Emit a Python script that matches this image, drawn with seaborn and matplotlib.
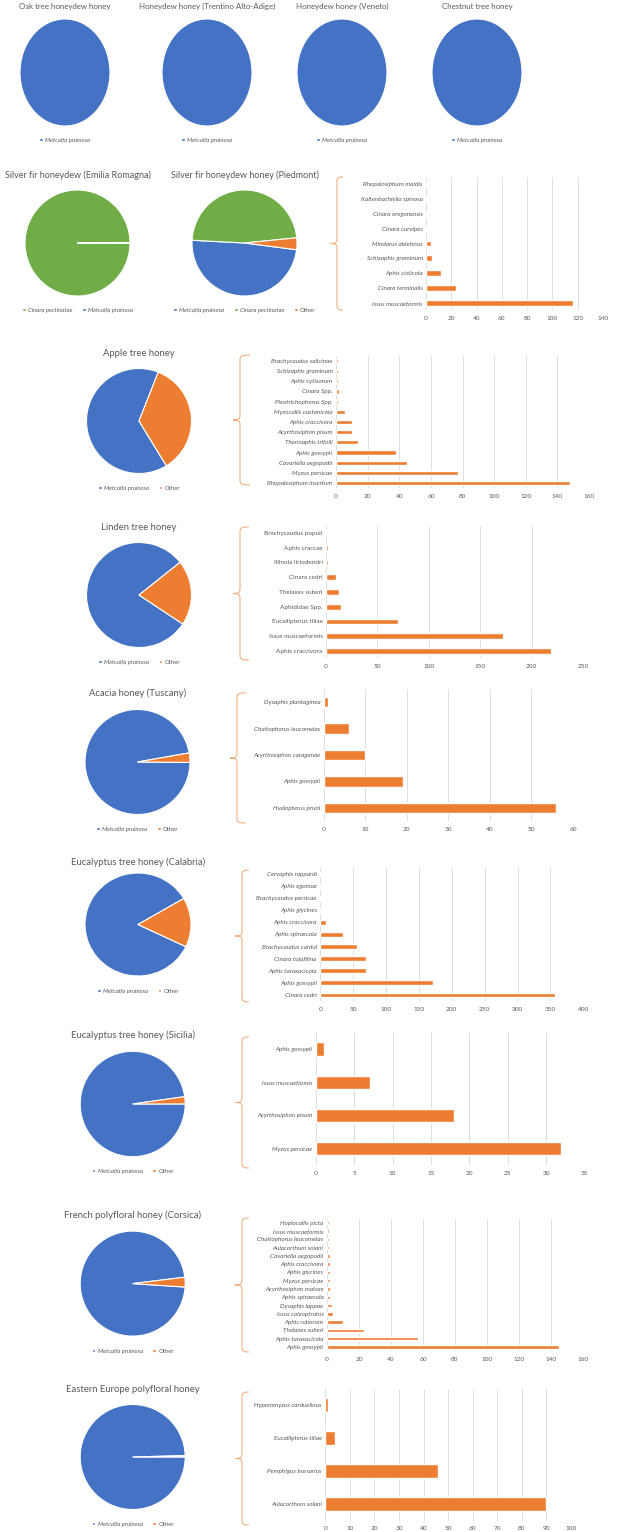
import numpy as np
import matplotlib
matplotlib.use("Agg")
import matplotlib.pyplot as plt
from matplotlib.patches import Patch, PathPatch
from matplotlib.path import Path
import seaborn as sns

# colours (Office palette)
BLUE = "#4472C4"
ORANGE = "#ED7D31"
GREEN = "#70AD47"
GREY = "#595959"
BRACE = "#F4B183"

# ---- pie data (shares) ----
top_titles = ["Oak tree honeydew honey", "Honeydew honey (Trentino Alto-Adige)",
              "Honeydew honey (Veneto)", "Chestnut tree honey"]

emilia_labels = ["Cinara pectinatae", "Metcalfa pruinosa"]
emilia_values = [99.9, 0.1]

piedmont_labels = ["Metcalfa pruinosa", "Cinara pectinatae", "Other"]
piedmont_values = [48.8, 47.6, 3.6]

mp_other_titles = ["Apple tree honey", "Linden tree honey", "Acacia honey (Tuscany)",
                   "Eucalyptus tree honey (Calabria)", "Eucalyptus tree honey (Sicilia)",
                   "French polyfloral honey (Corsica)", "Eastern Europe polyfloral honey"]
mp_share = [64.7, 80.0, 97.1, 84.5, 97.8, 97.0, 99.6]
other_share = [35.3, 20.0, 2.9, 15.5, 2.2, 3.0, 0.4]

# ---- bar data (counts, top to bottom) ----
silver_cats = ["Rhopalosiphum maidis", "Kaltenbachiella spinosa", "Cinara oregonensis",
               "Cinara curvipes", "Mindarus abietinus", "Schizaphis graminum",
               "Aphis cisticola", "Cinara terminalis", "Issus muscaeformis"]
silver_vals = [1, 1, 1, 1, 4, 5, 12, 24, 116]

apple_cats = ["Brachycaudus salicinae", "Schizaphis graminum", "Aphis cytisorum", "Cinara Spp.",
              "Pleotrichophorus Spp.", "Myzocallis castanicola", "Aphis craccivora",
              "Acyrthosiphon pisum", "Therioaphis trifolii", "Aphis gossypii",
              "Cavariella aegopodii", "Myzus persicae", "Rhopalosiphum insertum"]
apple_vals = [1, 1, 1, 2, 1, 6, 10, 10, 14, 38, 45, 77, 148]

linden_cats = ["Brachycaudus populi", "Aphis craccae", "Illinoia liriodendri", "Cinara cedri",
               "Thelaxes suberi", "Aphididae Spp.", "Eucallipterus tiliae",
               "Issus muscaeformis", "Aphis craccivora"]
linden_vals = [1, 2, 2, 10, 13, 15, 70, 172, 219]

acacia_cats = ["Dysaphis plantaginea", "Chaitophorus leucomelas", "Acyrthosiphon caraganae",
               "Aphis gossypii", "Hyalopterus pruni"]
acacia_vals = [1, 6, 10, 19, 56]

calabria_cats = ["Cervaphis rappardi", "Aphis egomae", "Brachycaudus persicae", "Aphis glycines",
                 "Aphis craccivora", "Aphis spiraecola", "Brachycaudus cardui",
                 "Cinara tujafilina", "Aphis taraxacicola", "Aphis gossypii", "Cinara cedri"]
calabria_vals = [1, 1, 1, 1, 9, 34, 56, 70, 70, 171, 357]

sicilia_cats = ["Aphis gossypii", "Issus muscaeformis", "Acyrthosiphon pisum", "Myzus persicae"]
sicilia_vals = [1, 7, 18, 32]

corsica_cats = ["Hoplocallis picta", "Issus muscaeformis", "Chaitophorus leucomelas",
                "Aulacorthum solani", "Cavariella aegopodii", "Aphis craccivora",
                "Aphis glycines", "Myzus persicae", "Acyrthosiphon malvae", "Aphis spiraecola",
                "Dysaphis lappae", "Issus coleoptratus", "Aphis ruborum", "Thelaxes suberi",
                "Aphis taraxacicola", "Aphis gossypii"]
corsica_vals = [1, 1, 1, 1, 2, 2, 2, 2, 2, 2, 3, 4, 10, 23, 57, 145]

eastern_cats = ["Hyperomyzus carduelinus", "Eucallipterus tiliae", "Pemphigus bursarius",
                "Aulacorthum solani"]
eastern_vals = [1, 4, 46, 90]

sns.set_style("white")
plt.rcParams["font.family"] = ["Lato", "DejaVu Sans"]

W, H = 620, 1532
fig = plt.figure(figsize=(W / 100, H / 100), dpi=100)


def px_axes(x0, y0, x1, y1):
    return fig.add_axes([x0 / W, 1 - y1 / H, (x1 - x0) / W, (y1 - y0) / H])


def draw_pie(cx, cy, rx, ry, values, colors, start, title, ty, labels, ly,
             tsize=6.8, ccw=True):
    ax = px_axes(cx - rx, cy - ry, cx + rx, cy + ry)
    ax.pie(values, colors=colors, startangle=start, counterclock=ccw,
           wedgeprops=dict(edgecolor="white", linewidth=0.8))
    ax.set_aspect("auto")
    ax.set_xlim(-1, 1)
    ax.set_ylim(-1, 1)
    fig.text(cx / W, 1 - ty / H, title, ha="center", va="center", fontsize=tsize, color=GREY)
    handles = [Patch(facecolor=c) for c in colors]
    leg = fig.legend(handles, labels, loc="center", bbox_to_anchor=(cx / W, 1 - ly / H),
                     ncol=len(labels), frameon=False, fontsize=4.3,
                     handlelength=0.6, handleheight=0.6, handletextpad=0.4,
                     columnspacing=1.6, borderpad=0)
    for t in leg.get_texts():
        t.set_color(GREY)
        if t.get_text() != "Other":
            t.set_style("italic")


def draw_bars(x0, x1, ytop, ybot, cats, vals, xmax, step, italic=True):
    n = len(cats)
    slot = (ybot - ytop) / (n - 1)
    ax = px_axes(x0, ytop - slot / 2, x1, ybot + slot / 2)
    sns.barplot(x=vals, y=cats, color=ORANGE, saturation=1, width=0.4, ax=ax)
    ax.set_xlim(0, xmax)
    ax.set_xticks(np.arange(0, xmax + step, step))
    ax.set_ylim(n - 0.5, -0.5)
    ax.xaxis.grid(True, color="#D9D9D9", linewidth=0.6)
    ax.yaxis.grid(False)
    ax.set_axisbelow(True)
    for s in ax.spines.values():
        s.set_visible(False)
    ax.tick_params(length=0, labelsize=4.6, colors=GREY, pad=2.5)
    ax.tick_params(axis="x", pad=4)
    ax.set_xlabel("")
    ax.set_ylabel("")
    if italic:
        for t in ax.get_yticklabels():
            t.set_style("italic")


def brace(x, top, bot, hook=6, tip=7, r=5):
    mid = (top + bot) / 2
    pts = [(x + hook, top), (x + 1, top), (x, top + 1), (x, top + r),
           (x, mid - r),
           (x, mid - 1), (x - 1, mid), (x - tip, mid),
           (x - 1, mid), (x, mid + 1), (x, mid + r),
           (x, bot - r),
           (x, bot - 1), (x + 1, bot), (x + hook, bot)]
    codes = [Path.MOVETO, Path.CURVE4, Path.CURVE4, Path.CURVE4,
             Path.LINETO,
             Path.CURVE4, Path.CURVE4, Path.CURVE4,
             Path.CURVE4, Path.CURVE4, Path.CURVE4,
             Path.LINETO,
             Path.CURVE4, Path.CURVE4, Path.CURVE4]
    verts = [(px / W, 1 - py / H) for px, py in pts]
    fig.add_artist(PathPatch(Path(verts, codes), fill=False, edgecolor=BRACE,
                             linewidth=0.8, transform=fig.transFigure))


# top row: Metcalfa pruinosa only
for cx, title in zip([65, 207, 342, 477], top_titles):
    draw_pie(cx, 72.5, 45, 53.5, [100], [BLUE], 90, title, 6, ["Metcalfa pruinosa"], 140,
             tsize=5.7)

# silver fir row
draw_pie(77.5, 243, 52.5, 53, emilia_values, [GREEN, BLUE], 0,
         "Silver fir honeydew (Emilia Romagna)", 175, emilia_labels, 310, tsize=6.5)
draw_pie(244.5, 243, 52.5, 53, piedmont_values, [BLUE, GREEN, ORANGE], -7.3,
         "Silver fir honeydew honey (Piedmont)", 175, piedmont_labels, 310, tsize=6.5,
         ccw=False)
draw_bars(426, 603, 184, 303, silver_cats, silver_vals, 140, 20)
brace(337, 177, 310)

# Metcalfa vs other pies with detail bars
pie_pos = [(139, 421, 52.5, 52.5, 68.5, 353, 488),
           (139, 595, 52.5, 52.5, 38.5, 527, 662),
           (137.5, 762, 52.5, 52.5, 10, 693, 829),
           (138, 924.5, 53, 51.5, 30.3, 862, 991),
           (132.7, 1104, 52.5, 52.7, 8, 1035, 1171),
           (132.7, 1283.6, 52.5, 52.5, 7, 1215, 1351),
           (132.7, 1457, 52.5, 52.5, 1.5, 1389, 1524)]
for i, (cx, cy, rx, ry, st, ty, ly) in enumerate(pie_pos):
    draw_pie(cx, cy, rx, ry, [mp_share[i], other_share[i]], [BLUE, ORANGE], st,
             mp_other_titles[i], ty, ["Metcalfa pruinosa", "Other"], ly)

draw_bars(336, 589, 361, 483, apple_cats, apple_vals, 160, 20)
draw_bars(326, 583, 533, 651, linden_cats, linden_vals, 250, 50, italic=False)
draw_bars(323.7, 573, 702, 808, acacia_cats, acacia_vals, 60, 10)
draw_bars(320.3, 583.3, 874, 995, calabria_cats, calabria_vals, 400, 50)
draw_bars(316, 584.3, 1049, 1148.7, sicilia_cats, sicilia_vals, 35, 5)
draw_bars(327, 582.7, 1222.7, 1347, corsica_cats, corsica_vals, 160, 20)
draw_bars(325.3, 571, 1405, 1504, eastern_cats, eastern_vals, 100, 10)

brace(240, 355, 485, hook=10)
brace(240, 527, 660, hook=9)
brace(237, 693, 823, hook=9)
brace(242, 870, 1002, hook=7)
brace(242, 1037, 1168, hook=7)
brace(242, 1218, 1352, hook=7)
brace(242, 1392, 1525, hook=7)

fig.savefig("out.png", dpi=100, facecolor="white")
